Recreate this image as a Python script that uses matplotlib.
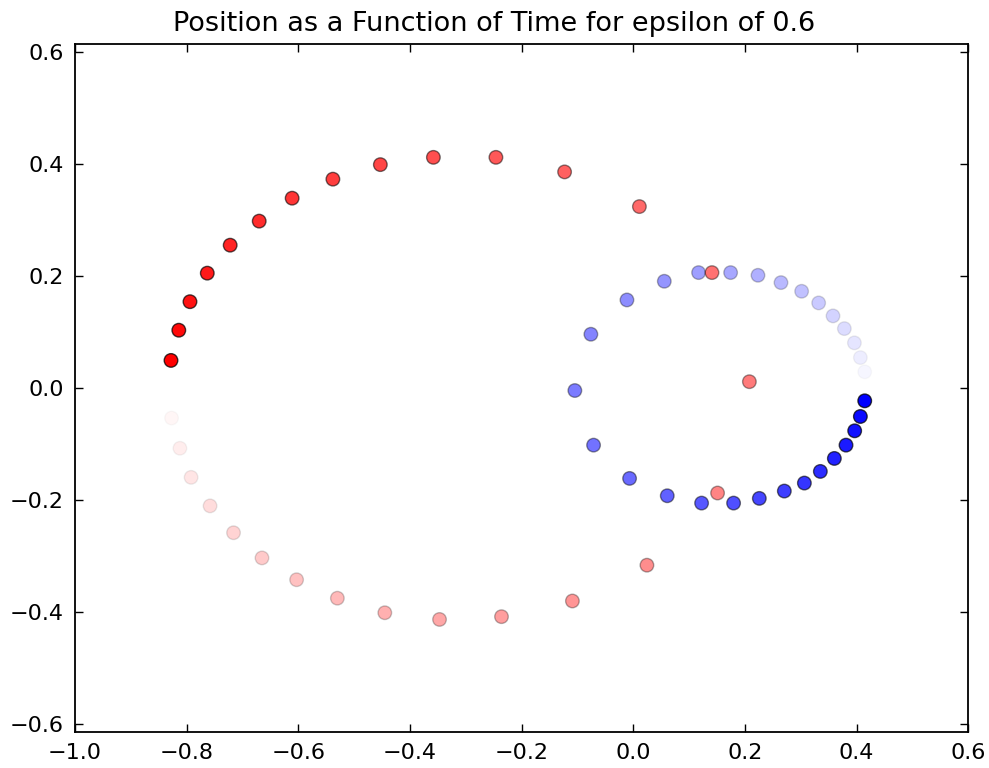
import numpy as np
import matplotlib
matplotlib.use('Agg')
import matplotlib.pyplot as plt
from matplotlib.colors import to_rgba

# posicoes, em ordem de tempo
red_x = [-0.827, -0.812, -0.792, -0.758, -0.716, -0.665, -0.603, -0.530, -0.445, -0.347,
         -0.236, -0.109, 0.0245, 0.151, 0.208, 0.141, 0.011, -0.123, -0.246, -0.358,
         -0.453, -0.538, -0.611, -0.670, -0.722, -0.763, -0.794, -0.814, -0.828]
red_y = [-0.054, -0.108, -0.160, -0.211, -0.259, -0.304, -0.343, -0.376, -0.402, -0.414,
         -0.409, -0.381, -0.317, -0.188, 0.011, 0.206, 0.324, 0.386, 0.412, 0.412,
         0.399, 0.373, 0.339, 0.298, 0.255, 0.205, 0.154, 0.103, 0.049]

blue_x = [0.4146, 0.4068, 0.3961, 0.3781, 0.3578, 0.3321, 0.3016, 0.2646, 0.2234, 0.1744,
          0.1170, 0.0556, -0.0113, -0.0759, -0.1046, -0.0711, -0.0066, 0.0609, 0.1224, 0.1797,
          0.2258, 0.2706, 0.3065, 0.3351, 0.3602, 0.3811, 0.3966, 0.4068, 0.4146]
blue_y = [0.0286, 0.0541, 0.0804, 0.1059, 0.1286, 0.1518, 0.1726, 0.1881, 0.2012, 0.2060,
          0.2060, 0.1905, 0.1571, 0.0958, -0.0048, -0.1024, -0.1619, -0.1929, -0.2060, -0.2060,
          -0.1976, -0.1845, -0.1702, -0.1494, -0.1262, -0.1024, -0.0768, -0.0512, -0.0232]

epsilon = 0.6

def cores(nome, n):
    # transparencia cresce com o tempo
    alphas = np.arange(1, n + 1) / n
    face = [to_rgba(nome, a) for a in alphas]
    borda = [to_rgba('k', a * 0.75) for a in alphas]
    return face, borda

fig = plt.figure(figsize=(9.89, 7.68), dpi=100)
ax = fig.add_axes([0.0758, 0.047, 0.9032, 0.896])

face_b, borda_b = cores('b', len(blue_x))
face_r, borda_r = cores('r', len(red_x))
ax.scatter(blue_x, blue_y, s=95, c=face_b, edgecolors=borda_b, linewidths=1.0)
ax.scatter(red_x, red_y, s=95, c=face_r, edgecolors=borda_r, linewidths=1.0)

ax.set_xlim(-1.0, 0.6)
ax.set_ylim(-0.615, 0.615)
ax.set_xticks(np.arange(-1.0, 0.61, 0.2))
ax.set_yticks(np.arange(-0.6, 0.61, 0.2))
ax.tick_params(direction='in', top=True, right=True, length=6, width=1,
               labelsize=16, pad=8)
for s in ax.spines.values():
    s.set_linewidth(1.3)

# titulo centrado na figura
fig.text(0.5, 1 - 31 / 768, 'Position as a Function of Time for epsilon of ' + str(epsilon),
         ha='center', va='baseline', fontsize=19.5)

fig.savefig('out.png', dpi=100)
